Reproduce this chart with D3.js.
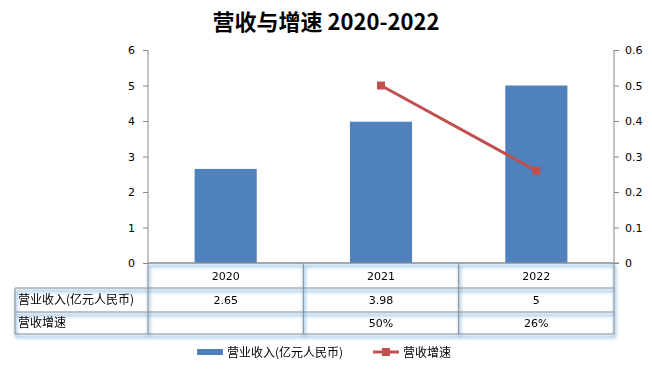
<!DOCTYPE html>
<html>
<head>
<meta charset="utf-8">
<title>营收与增速</title>
<script src="https://cdn.jsdelivr.net/npm/d3@7"></script>
<style>
body { margin: 0; background: #fff; }
text { font-family: "DejaVu Sans", "Noto Sans CJK SC", sans-serif; fill: #000; }
</style>
</head>
<body>
<div id="chart"></div>
<script>
// data
var years = ["2020", "2021", "2022"];
var revenue = [2.65, 3.98, 5];
var growth = [null, 0.50, 0.26];
var revenueLabels = ["2.65", "3.98", "5"];
var growthLabels = ["", "50%", "26%"];
var leftTicks = [0, 1, 2, 3, 4, 5, 6];
var rightTicks = [0, 0.1, 0.2, 0.3, 0.4, 0.5, 0.6];
var rowNames = ["营业收入(亿元人民币)", "营收增速"];

var svgWidth = 652, svgHeight = 370;
var plotLeft = 148, plotRight = 614, plotTop = 50, plotBottom = 263;

var svg = d3.select("#chart").append("svg")
    .attr("width", svgWidth)
    .attr("height", svgHeight);

var defs = svg.append("defs");
defs.append("filter").attr("id", "glow")
    .attr("x", "-5%").attr("y", "-50%").attr("width", "110%").attr("height", "200%")
  .append("feGaussianBlur").attr("stdDeviation", 1.5);

var x = d3.scaleBand().domain(years).range([plotLeft, plotRight]).paddingInner(0.6).paddingOuter(0.3);
var xc = d3.scaleBand().domain(years).range([plotLeft, plotRight]);
var y = d3.scaleLinear().domain([0, 6]).range([plotBottom, plotTop]);
var y2 = d3.scaleLinear().domain([0, 0.6]).range([plotBottom, plotTop]);

// title
svg.append("text")
    .attr("x", 326).attr("y", 30)
    .attr("text-anchor", "middle")
    .style("font-family", "'Noto Sans CJK SC', sans-serif")
    .style("font-size", "22px")
    .style("font-weight", "bold")
    .text("营收与增速 2020-2022");

// bars
svg.selectAll(".bar")
    .data(years)
    .enter().append("rect")
    .attr("class", "bar")
    .attr("x", function(d) { return x(d); })
    .attr("y", function(d, i) { return y(revenue[i]); })
    .attr("width", x.bandwidth())
    .attr("height", function(d, i) { return plotBottom - y(revenue[i]); })
    .attr("fill", "#4F81BD");

// axes
var axL = svg.append("g")
    .attr("transform", "translate(" + plotLeft + ",0)")
    .call(d3.axisLeft(y).tickValues(leftTicks).tickSize(5).tickPadding(8).tickFormat(d3.format("d")));
var axR = svg.append("g")
    .attr("transform", "translate(" + plotRight + ",0)")
    .call(d3.axisRight(y2).tickValues(rightTicks).tickSize(5).tickPadding(6)
        .tickFormat(function(d) { return d === 0 ? "0" : d3.format(".1f")(d); }));
[axL, axR].forEach(function(ax) {
    ax.select(".domain").attr("stroke", "#868686").attr("d", "M0," + plotTop + "V" + plotBottom);
    ax.selectAll(".tick line").attr("stroke", "#868686");
    ax.selectAll(".tick text").style("font-size", "11px").attr("fill", "#000");
});
svg.append("line")
    .attr("x1", plotLeft).attr("x2", plotRight + 5)
    .attr("y1", plotBottom).attr("y2", plotBottom)
    .attr("stroke", "#868686");

// growth line
var pts = years.map(function(d, i) { return {year: d, v: growth[i]}; })
    .filter(function(p) { return p.v !== null; });
var line = d3.line()
    .x(function(p) { return xc(p.year) + xc.bandwidth() / 2; })
    .y(function(p) { return y2(p.v); });
svg.append("path")
    .datum(pts)
    .attr("d", line)
    .attr("fill", "none")
    .attr("stroke", "#C0504D")
    .attr("stroke-width", 3);
svg.selectAll(".mk")
    .data(pts)
    .enter().append("rect")
    .attr("class", "mk")
    .attr("x", function(p) { return xc(p.year) + xc.bandwidth() / 2 - 4; })
    .attr("y", function(p) { return y2(p.v) - 4; })
    .attr("width", 8).attr("height", 8)
    .attr("fill", "#C0504D");

// data table
var rowY = [263, 288, 312, 334];
var tableLeft = 15;
var grid = [];
rowY.forEach(function(ry, i) {
    grid.push([i === 0 ? plotLeft : tableLeft, ry, plotRight, ry]);
});
grid.push([tableLeft, rowY[1], tableLeft, rowY[3]]);
xc.domain().forEach(function(d) { grid.push([xc(d), rowY[0], xc(d), rowY[3]]); });
grid.push([plotRight, rowY[0], plotRight, rowY[3]]);

var glow = svg.append("g").attr("filter", "url(#glow)");
glow.selectAll("line").data(grid).enter().append("line")
    .attr("x1", function(g) { return g[0] + 1; }).attr("y1", function(g) { return g[1] + 3; })
    .attr("x2", function(g) { return g[2] + 1; }).attr("y2", function(g) { return g[3] + 3; })
    .attr("stroke", "#9CC3E6").attr("stroke-width", 3).attr("opacity", 0.8);
svg.append("g").selectAll("line").data(grid).enter().append("line")
    .attr("x1", function(g) { return g[0]; }).attr("y1", function(g) { return g[1]; })
    .attr("x2", function(g) { return g[2]; }).attr("y2", function(g) { return g[3]; })
    .attr("stroke", "#8C8C8C").attr("stroke-width", 1);

var cellText = function(labels, row) {
    svg.append("g").selectAll("text").data(years).enter().append("text")
        .attr("x", function(d) { return xc(d) + xc.bandwidth() / 2; })
        .attr("y", (rowY[row] + rowY[row + 1]) / 2 + 4)
        .attr("text-anchor", "middle")
        .style("font-size", "11px")
        .text(function(d, i) { return labels[i]; });
};
cellText(years, 0);
cellText(revenueLabels, 1);
cellText(growthLabels, 2);

rowNames.forEach(function(n, i) {
    svg.append("text")
        .attr("x", tableLeft + 3)
        .attr("y", (rowY[i + 1] + rowY[i + 2]) / 2 + 4)
        .style("font-family", "'Noto Sans CJK SC', sans-serif")
        .style("font-size", "12px")
        .text(n);
});

// legend
var lg = svg.append("g").attr("transform", "translate(0,352)");
lg.append("rect").attr("x", 197).attr("y", -3).attr("width", 26).attr("height", 6).attr("fill", "#4F81BD");
lg.append("text").attr("x", 227).attr("y", 5)
    .style("font-family", "'Noto Sans CJK SC', sans-serif").style("font-size", "12px")
    .text(rowNames[0]);
lg.append("line").attr("x1", 373).attr("x2", 399).attr("y1", 0).attr("y2", 0)
    .attr("stroke", "#C0504D").attr("stroke-width", 3);
lg.append("rect").attr("x", 382).attr("y", -4).attr("width", 8).attr("height", 8).attr("fill", "#C0504D");
lg.append("text").attr("x", 403).attr("y", 5)
    .style("font-family", "'Noto Sans CJK SC', sans-serif").style("font-size", "12px")
    .text(rowNames[1]);
</script>
</body>
</html>
